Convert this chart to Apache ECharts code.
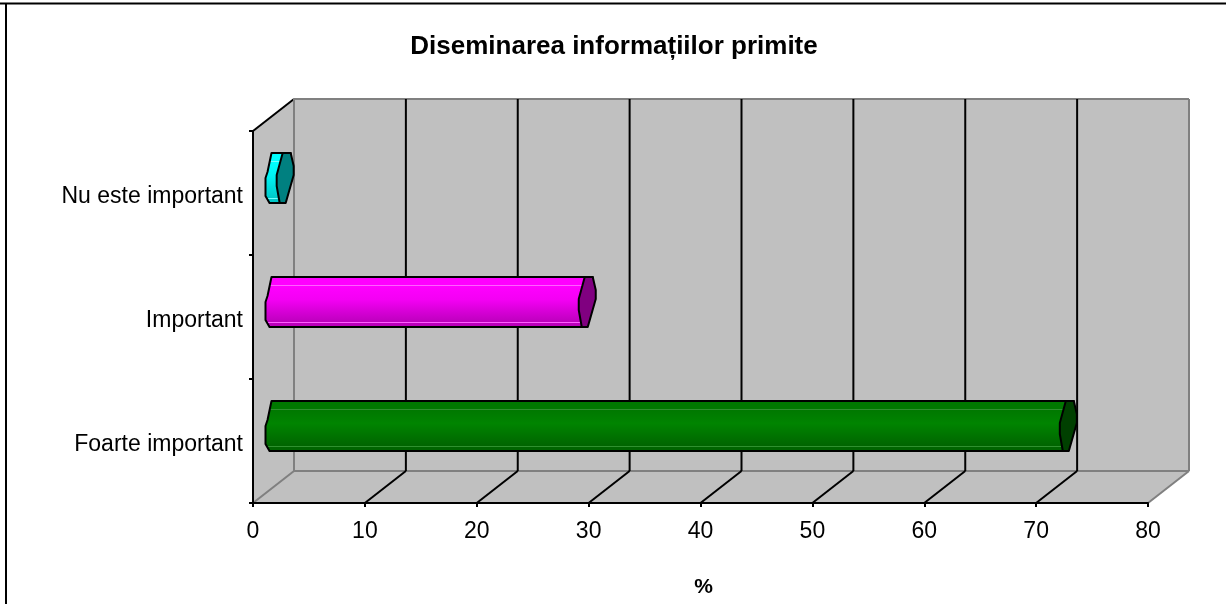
<!DOCTYPE html>
<html lang="en">
<head>
    <meta charset="utf-8">
    <title>Diseminarea informațiilor primite</title>
    <script src="https://cdn.jsdelivr.net/npm/echarts@6/dist/echarts.min.js"></script>
    <style>
        html, body { margin: 0; padding: 0; background: #fff; }
    </style>
</head>
<body>
<div id="chart" style="width:1226px; height:604px;"></div>

<script>
    var categories = ['Foarte important', 'Important', 'Nu este important'];
    var percentValues = [71, 28, 1];
    var xTicks = [0, 10, 20, 30, 40, 50, 60, 70, 80];

    // 3d look: offset from the front plane to the back wall
    var DX = 41, DY = -32;
    var WALL = '#c0c0c0', EDGE = '#808080';

    // body gradient and end cap colour per bar
    var barStyles = [
        { top: '#007800', mid: '#008400', bottom: '#006400', line: '#2f902f', cap: '#004000' },
        { top: '#ff00ff', mid: '#f400f4', bottom: '#bc00bc', line: '#ff60ff', cap: '#800080' },
        { top: '#00ffff', mid: '#00f4f4', bottom: '#00c8c8', line: '#70ffff', cap: '#008080' }
    ];
    // shape of the octagonal cylinder, relative to the centre of its end
    var capShape = [[-2, -25], [6, -25], [9, -12], [9, -3], [1, 25], [-5, 25], [-8, 8], [-8, -3]];
    var startShape = [[-2, -25], [-6, -6], [-8, 0], [-8, 18], [-4, 25]];

    function poly(points, style) {
        return { type: 'polygon', shape: { points: points }, style: style };
    }
    function seg(x1, y1, x2, y2, color, width) {
        return {
            type: 'line',
            shape: { x1: x1, y1: y1, x2: x2, y2: y2 },
            style: { stroke: color, lineWidth: width, fill: null }
        };
    }

    function renderWalls(params) {
        var c = params.coordSys;
        var l = c.x, t = c.y, r = c.x + c.width, b = c.y + c.height;
        var children = [
            poly([[l + DX, t + DY], [r + DX, t + DY], [r + DX, b + DY], [l + DX, b + DY]], { fill: WALL }),
            poly([[l, b], [r, b], [r + DX, b + DY], [l + DX, b + DY]], { fill: WALL }),
            poly([[l, t], [l + DX, t + DY], [l + DX, b + DY], [l, b]], { fill: WALL }),
            seg(l + DX, t + DY, r + DX, t + DY, EDGE, 2),
            seg(l + DX, b + DY, r + DX, b + DY, EDGE, 2),
            seg(l, t, l + DX, t + DY, '#000', 2)
        ];
        return { type: 'group', children: children };
    }

    function renderGrid(params, api) {
        var c = params.coordSys;
        var t = c.y, b = c.y + c.height;
        var v = api.value(0);
        var x = api.coord([v, 0])[0];
        var last = xTicks[xTicks.length - 1];
        var color = (v === 0 || v === last) ? EDGE : '#000';
        return {
            type: 'group',
            children: [
                seg(x + DX, t + DY, x + DX, b + DY, color, 2),
                seg(x, b, x + DX, b + DY, color, 2)
            ]
        };
    }

    function renderBar(params, api) {
        var s = barStyles[params.dataIndex];
        var p0 = api.coord([0, api.value(1)]);
        var p1 = api.coord([api.value(0), api.value(1)]);
        var sx = p0[0] + DX / 2, sy = p0[1] + DY / 2 + 1;
        var ex = p1[0] + DX / 2;
        var outline = startShape.map(function (p) { return [sx + p[0], sy + p[1]]; });
        outline.push([ex - 5, sy + 25], [ex + 6, sy - 25]);
        var cap = capShape.map(function (p) { return [ex + p[0], sy + p[1]]; });
        var fill = new echarts.graphic.LinearGradient(0, 0, 0, 1, [
            { offset: 0, color: s.top },
            { offset: 0.17, color: s.top },
            { offset: 0.17, color: s.line },
            { offset: 0.19, color: s.line },
            { offset: 0.19, color: s.top },
            { offset: 0.45, color: s.mid },
            { offset: 0.89, color: s.bottom },
            { offset: 0.89, color: s.line },
            { offset: 0.91, color: s.line },
            { offset: 0.91, color: s.bottom },
            { offset: 1, color: s.bottom }
        ]);
        return {
            type: 'group',
            children: [
                poly(outline, { fill: fill, stroke: '#000', lineWidth: 2, lineJoin: 'round' }),
                poly(cap, { fill: s.cap, stroke: '#000', lineWidth: 2, lineJoin: 'round' })
            ]
        };
    }

    var chart = echarts.init(document.getElementById('chart'), null, { renderer: 'canvas' });
    chart.setOption({
        animation: false,
        backgroundColor: '#fff',
        textStyle: { fontFamily: '"Liberation Sans", Arial, sans-serif', color: '#000' },
        title: {
            text: 'Diseminarea informațiilor primite',
            left: 609,
            top: 29,
            textAlign: 'center',
            textStyle: { fontFamily: '"Liberation Sans"', fontWeight: 'bold', fontSize: 26, color: '#000' }
        },
        grid: { left: 253, top: 131, width: 895, height: 372, outerBoundsMode: 'none', containLabel: false },
        xAxis: {
            type: 'value',
            min: 0,
            max: 80,
            interval: 10,
            z: 5,
            name: '%',
            nameLocation: 'middle',
            nameGap: 74,
            nameTextStyle: { fontFamily: '"Liberation Sans"', fontWeight: 'bold', fontSize: 21, color: '#000', padding: [0, 0, 0, 6] },
            axisLine: { show: true, lineStyle: { color: '#000', width: 2 } },
            axisTick: { show: true, length: 4, lineStyle: { color: '#000', width: 2 } },
            axisLabel: { fontFamily: '"Liberation Sans"', fontSize: 23, color: '#000', margin: 17 },
            splitLine: { show: false }
        },
        yAxis: {
            type: 'category',
            data: categories,
            z: 5,
            axisLine: { show: true, lineStyle: { color: '#000', width: 2 } },
            axisTick: { show: true, length: 4, alignWithLabel: false, lineStyle: { color: '#000', width: 2 } },
            // labels sit a little below the middle of each band
            axisLabel: { fontFamily: '"Liberation Sans"', fontSize: 23, color: '#000', margin: 10, verticalAlign: 'top', lineHeight: 8 },
            splitLine: { show: false }
        },
        graphic: [
            { type: 'line', z: 10, shape: { x1: 0, y1: 3.5, x2: 1226, y2: 3.5 }, style: { stroke: '#000', lineWidth: 2 } },
            { type: 'line', z: 10, shape: { x1: 6, y1: 3, x2: 6, y2: 604 }, style: { stroke: '#000', lineWidth: 2 } }
        ],
        series: [
            { type: 'custom', name: 'walls', z: 1, silent: true, data: [[0, 0]], renderItem: renderWalls },
            { type: 'custom', name: 'grid', z: 2, silent: true, data: xTicks.map(function (v) { return [v, 0]; }), renderItem: renderGrid },
            {
                type: 'custom',
                name: '%',
                z: 3,
                data: percentValues.map(function (v, i) { return [v, i]; }),
                encode: { x: 0, y: 1 },
                renderItem: renderBar
            }
        ]
    });
</script>
</body>
</html>
